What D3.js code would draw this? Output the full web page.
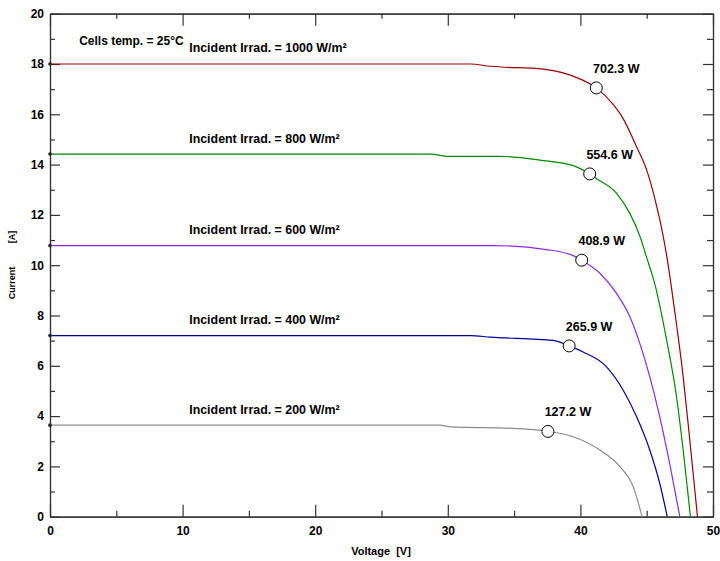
<!DOCTYPE html>
<html>
<head>
<meta charset="utf-8">
<script src="https://cdn.jsdelivr.net/npm/d3@7/dist/d3.min.js"></script>
<style>
  body { margin: 0; background: #fff; }
  svg { display: block; font-family: "Liberation Sans", Arial, sans-serif; }
  .axis text { font-size: 12px; font-weight: bold; fill: #000; }
  .axis path, .axis line { stroke: #333; stroke-width: 1.2; }
</style>
</head>
<body>
<div id="chart"></div>
<script>
// I-V curves, one pair of arrays per irradiance level (voltage in V, current in A)
const irradiance = [1000, 800, 600, 400, 200];
const colors = ['#990000', '#008800', '#8a2be2', '#000099', '#8c8c8c'];

const v1000 = [0, 31.7, 33.2, 37.2, 40.0, 41.2, 42.5, 43.2, 44.2, 45.0, 45.7, 46.2, 46.5, 47.1, 47.75, 48.25, 48.83];
const i1000 = [18.0, 18.0, 17.91, 17.8, 17.4, 17.05, 16.37, 15.85, 14.75, 13.78, 12.46, 11.27, 10.4, 8.22, 5.57, 3.05, 0];

const v800 = [0, 28.7, 29.9, 33.9, 36.95, 39.46, 40.7, 41.2, 42.73, 43.73, 44.5, 45.0, 45.6, 46.5, 47.25, 47.75, 48.3];
const i800 = [14.42, 14.42, 14.33, 14.33, 14.18, 13.96, 13.63, 13.45, 12.86, 12.06, 11.13, 10.3, 9.28, 7.03, 4.77, 2.65, 0];

const v600 = [0, 33.4, 37.45, 39.46, 40.1, 41.47, 42.73, 43.73, 44.48, 45.23, 45.98, 46.73, 47.5];
const i600 = [10.78, 10.78, 10.62, 10.38, 10.2, 9.68, 8.88, 7.95, 6.89, 5.57, 3.98, 2.12, 0];

const v400 = [0, 31.7, 33.2, 37.95, 39.15, 40.2, 41.97, 43.22, 44.23, 45.23, 45.98, 46.55];
const i400 = [7.2, 7.2, 7.14, 7.01, 6.79, 6.55, 5.96, 5.04, 3.98, 2.65, 1.33, 0];

const v200 = [0, 29.4, 30.2, 34.9, 37.55, 39.46, 41.47, 42.98, 43.98, 44.45, 44.65];
const i200 = [3.64, 3.64, 3.57, 3.51, 3.39, 3.18, 2.65, 1.99, 1.19, 0.4, 0];

// maximum power points
const mppV = [41.2, 40.7, 40.1, 39.15, 37.55];
const mppI = [17.05, 13.63, 10.2, 6.79, 3.39];
const mppLabels = ['702.3 W', '554.6 W', '408.9 W', '265.9 W', '127.2 W'];

const xMajor = [0, 10, 20, 30, 40, 50];
const xMinor = [5, 15, 25, 35, 45];
const yMajor = [0, 2, 4, 6, 8, 10, 12, 14, 16, 18, 20];
const yMinor = [1, 3, 5, 7, 9, 11, 13, 15, 17, 19];

const series = [
  { v: v1000, i: i1000 },
  { v: v800, i: i800 },
  { v: v600, i: i600 },
  { v: v400, i: i400 },
  { v: v200, i: i200 }
];

const width = 720;
const height = 561;
const margin = { top: 13.7, right: 7, bottom: 44.3, left: 50 };
const w = width - margin.left - margin.right;
const h = height - margin.top - margin.bottom;

const svg = d3.select('#chart')
  .append('svg')
  .attr('width', width)
  .attr('height', height);

const g = svg.append('g')
  .attr('transform', `translate(${margin.left},${margin.top})`);

const x = d3.scaleLinear().domain([0, 50]).range([0, w]);
const y = d3.scaleLinear().domain([0, 20]).range([h, 0]);

// bottom axis: inward ticks with labels
g.append('g')
  .attr('class', 'axis')
  .attr('transform', `translate(0,${h})`)
  .call(d3.axisBottom(x).tickValues(xMajor).tickSize(-12).tickSizeOuter(0).tickPadding(10));
g.append('g')
  .attr('class', 'axis')
  .attr('transform', `translate(0,${h})`)
  .call(d3.axisBottom(x).tickValues(xMinor).tickSize(-6).tickSizeOuter(0).tickFormat(''));

// top axis
g.append('g')
  .attr('class', 'axis')
  .call(d3.axisTop(x).tickValues(xMajor).tickSize(-12).tickSizeOuter(0).tickFormat(''));
g.append('g')
  .attr('class', 'axis')
  .call(d3.axisTop(x).tickValues(xMinor).tickSize(-5).tickSizeOuter(0).tickFormat(''));

// left axis
g.append('g')
  .attr('class', 'axis')
  .call(d3.axisLeft(y).tickValues(yMajor).tickSize(-10).tickSizeOuter(0).tickPadding(6));
g.append('g')
  .attr('class', 'axis')
  .call(d3.axisLeft(y).tickValues(yMinor).tickSize(-5).tickSizeOuter(0).tickFormat(''));

// right axis
g.append('g')
  .attr('class', 'axis')
  .attr('transform', `translate(${w},0)`)
  .call(d3.axisRight(y).tickValues(yMajor).tickSize(-10).tickSizeOuter(0).tickFormat(''));
g.append('g')
  .attr('class', 'axis')
  .attr('transform', `translate(${w},0)`)
  .call(d3.axisRight(y).tickValues(yMinor).tickSize(-6).tickSizeOuter(0).tickFormat(''));

const line = d3.line()
  .x(d => x(d[0]))
  .y(d => y(d[1]))
  .curve(d3.curveMonotoneX);

series.forEach((s, k) => {
  const pts = s.v.map((v, j) => [v, s.i[j]]);
  g.append('path')
    .datum(pts)
    .attr('d', line)
    .attr('fill', 'none')
    .attr('stroke', colors[k])
    .attr('stroke-width', 1.2);

  g.append('circle')
    .attr('cx', x(s.v[0]))
    .attr('cy', y(s.i[0]))
    .attr('r', 1.8)
    .attr('fill', '#222');

  g.append('text')
    .attr('x', x(10.5))
    .attr('y', y(s.i[0]) - 11.5)
    .attr('font-size', 12.4)
    .attr('font-weight', 'bold')
    .text(`Incident Irrad. = ${irradiance[k]} W/m²`);
});

// maximum power point markers
g.selectAll('circle.mpp')
  .data(mppV)
  .enter().append('circle')
  .attr('class', 'mpp')
  .attr('cx', d => x(d))
  .attr('cy', (d, k) => y(mppI[k]))
  .attr('r', 6)
  .attr('fill', '#fff')
  .attr('stroke', '#000')
  .attr('stroke-width', 1);

g.selectAll('text.mpp')
  .data(mppLabels)
  .enter().append('text')
  .attr('class', 'mpp')
  .attr('x', (d, k) => x(mppV[k]) + 20)
  .attr('y', (d, k) => y(mppI[k]) - 15)
  .attr('text-anchor', 'middle')
  .attr('font-size', 12.5)
  .attr('font-weight', 'bold')
  .text(d => d);

g.append('text')
  .attr('x', x(2.2))
  .attr('y', 31)
  .attr('font-size', 12)
  .attr('font-weight', 'bold')
  .text('Cells temp. = 25°C');

// axis titles
svg.append('text')
  .attr('x', 381)
  .attr('y', 555)
  .attr('text-anchor', 'middle')
  .attr('font-size', 11)
  .attr('font-weight', 'bold')
  .attr('xml:space', 'preserve')
  .text('Voltage  [V]');

svg.append('text')
  .attr('transform', 'translate(15,283) rotate(-90)')
  .attr('text-anchor', 'middle')
  .attr('font-size', 9)
  .attr('font-weight', 'bold')
  .text('Current');

svg.append('text')
  .attr('transform', 'translate(15,237) rotate(-90)')
  .attr('text-anchor', 'middle')
  .attr('font-size', 9)
  .attr('font-weight', 'bold')
  .text('[A]');
</script>
</body>
</html>
